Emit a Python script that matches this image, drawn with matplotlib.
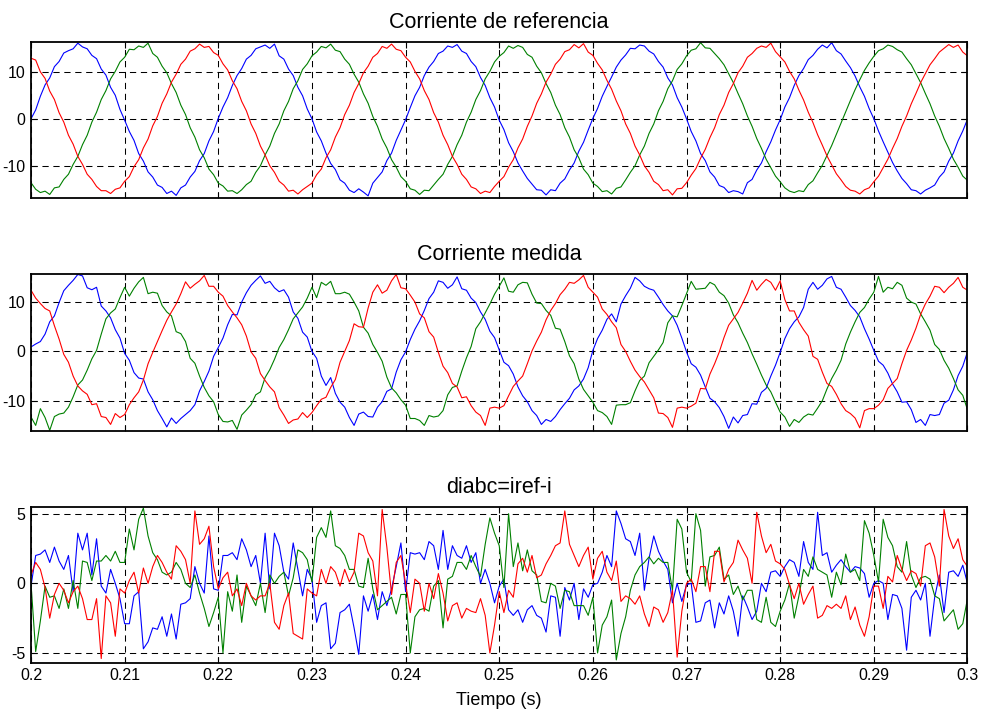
import numpy as np
import matplotlib.pyplot as plt

# Muestras cada 0.5 ms entre 0.2 s y 0.3 s (fase a: azul, b: verde, c: rojo)

# Corriente de referencia
ia_ref = [
    0.1, 2.0, 4.9, 7.3, 8.8, 11.2, 12.3, 14.1, 14.6, 15.0,
    16.2, 15.4, 15.0, 13.6, 12.9, 10.7, 9.4, 6.8, 5.1, 2.1,
    -0.2, -2.6, -4.5, -7.3, -8.9, -11.2, -12.3, -14.0, -14.5, -15.8,
    -15.3, -16.2, -14.6, -14.0, -12.3, -11.1, -8.8, -7.3, -4.6, -2.6,
    0.2, 2.6, 4.6, 7.2, 9.3, 10.8, 12.8, 13.6, 15.0, 15.4,
    15.8, 15.1, 16.0, 13.5, 12.8, 10.7, 9.3, 6.8, 5.0, 2.2,
    0.1, -2.7, -4.6, -7.2, -9.4, -10.7, -12.9, -13.6, -15.1, -15.6,
    -14.8, -15.5, -16.3, -13.6, -12.4, -11.2, -8.8, -7.2, -4.5, -2.3,
    -0.1, 2.5, 5.0, 6.8, 9.3, 11.1, 12.3, 14.0, 14.5, 15.6,
    15.3, 15.9, 14.5, 14.0, 12.3, 11.2, 8.9, 7.2, 4.6, 2.6,
    -0.2, -2.2, -5.0, -6.9, -9.3, -11.0, -12.6, -13.8, -15.0, -15.1,
    -16.1, -15.0, -15.2, -13.6, -12.7, -10.8, -9.3, -6.8, -4.9, -2.3,
    0.2, 2.3, 4.9, 7.0, 9.0, 11.1, 12.6, 13.7, 15.1, 15.0,
    15.8, 15.6, 14.5, 13.9, 12.3, 11.1, 8.8, 7.3, 4.6, 2.6,
    0.1, -2.6, -4.6, -7.3, -8.8, -11.2, -12.3, -14.1, -14.5, -15.6,
    -15.2, -15.4, -15.9, -13.5, -12.8, -10.8, -9.3, -6.9, -4.8, -2.3,
    -0.1, 2.6, 4.6, 7.2, 9.3, 10.8, 12.7, 13.6, 14.9, 15.8,
    15.2, 16.3, 14.6, 13.9, 12.4, 11.0, 9.2, 6.9, 4.9, 2.3,
    0.1, -2.5, -4.8, -7.0, -9.2, -11.0, -12.6, -13.7, -15.0, -15.2,
    -15.9, -15.1, -14.6, -14.0, -12.3, -11.2, -8.9, -7.2, -4.6, -2.5,
    0.0,
]
ib_ref = [
    -13.5, -14.9, -15.6, -15.3, -16.0, -14.6, -14.4, -12.8, -11.7, -9.6,
    -7.9, -5.4, -3.4, -0.6, 1.5, 4.2, 6.1, 8.6, 10.2, 12.2,
    13.2, 14.9, 14.8, 15.6, 15.3, 16.2, 14.0, 13.2, 11.3, 9.9,
    7.6, 5.7, 3.0, 1.0, -1.8, -3.8, -6.5, -8.2, -10.6, -11.8,
    -13.6, -14.2, -15.3, -15.2, -15.8, -15.0, -13.9, -13.2, -11.3, -9.9,
    -7.6, -5.7, -3.0, -1.0, 1.8, 3.8, 6.5, 8.2, 10.6, 11.8,
    13.5, 14.3, 15.5, 15.2, 16.0, 14.7, 14.4, 12.8, 11.7, 9.6,
    7.9, 5.4, 3.4, 0.6, -1.5, -4.2, -6.1, -8.6, -10.2, -12.2,
    -13.2, -14.8, -15.1, -16.0, -15.1, -15.2, -14.0, -12.8, -11.7, -9.6,
    -7.9, -5.4, -3.4, -0.6, 1.5, 4.2, 6.1, 8.6, 10.2, 12.2,
    13.4, 14.2, 15.6, 15.1, 15.7, 15.3, 13.8, 13.2, 11.3, 9.9,
    7.6, 5.7, 3.0, 1.0, -1.8, -3.8, -6.5, -8.2, -10.6, -11.8,
    -13.6, -14.3, -15.4, -15.2, -15.9, -14.7, -14.4, -12.9, -11.3, -9.9,
    -7.6, -5.7, -3.0, -1.0, 1.8, 3.8, 6.5, 8.2, 10.6, 11.8,
    13.5, 14.7, 15.0, 16.3, 15.2, 15.1, 14.0, 12.9, 11.6, 9.7,
    7.8, 5.5, 3.3, 0.7, -1.5, -4.1, -6.2, -8.5, -10.3, -12.1,
    -13.3, -14.6, -15.3, -15.6, -15.2, -15.4, -13.9, -13.1, -11.4, -9.8,
    -7.7, -5.6, -3.2, -0.8, 1.6, 4.0, 6.3, 8.4, 10.4, 12.0,
    13.4, 14.6, 15.0, 15.8, 15.5, 14.8, 14.3, 12.9, 11.6, 9.7,
    7.8, 5.5, 3.3, 0.7, -1.5, -4.1, -6.2, -8.5, -10.2, -12.1,
    -13.0,
]
ic_ref = [
    13.0, 12.6, 10.1, 8.7, 6.0, 4.2, 1.4, -0.6, -3.4, -5.3,
    -7.9, -9.6, -11.7, -12.8, -14.3, -15.2, -15.2, -15.8, -14.9, -14.6,
    -13.2, -12.2, -10.1, -8.6, -6.1, -4.2, -1.4, 0.6, 3.4, 5.4,
    7.9, 9.6, 11.7, 12.8, 14.5, 15.0, 16.0, 15.3, 15.5, 14.2,
    13.6, 11.8, 10.5, 8.2, 6.5, 3.8, 1.8, -1.0, -3.0, -5.7,
    -7.6, -9.9, -11.3, -13.2, -14.0, -15.3, -15.1, -15.9, -15.0, -14.3,
    -13.6, -11.8, -10.6, -8.2, -6.5, -3.8, -1.8, 1.0, 3.0, 5.7,
    7.6, 9.9, 11.3, 13.2, 14.0, 15.5, 15.1, 16.0, 14.9, 14.6,
    13.2, 12.2, 10.2, 8.6, 6.1, 4.2, 1.4, -0.6, -3.4, -5.4,
    -7.9, -9.6, -11.7, -12.8, -14.4, -14.8, -15.8, -15.3, -15.6, -14.3,
    -13.2, -12.2, -10.2, -8.6, -6.1, -4.2, -1.5, 0.7, 3.4, 5.4,
    7.9, 9.6, 11.7, 12.8, 14.4, 14.8, 15.9, 15.2, 16.1, 14.3,
    13.6, 11.9, 10.5, 8.3, 6.4, 3.9, 1.8, -1.0, -3.0, -5.7,
    -7.6, -9.9, -11.3, -13.2, -13.9, -15.2, -15.0, -16.1, -14.8, -14.7,
    -13.5, -11.9, -10.5, -8.3, -6.4, -3.9, -1.8, 1.0, 3.0, 5.7,
    7.6, 9.9, 11.3, 13.2, 14.0, 15.1, 15.6, 15.3, 16.2, 14.4,
    13.3, 12.2, 10.2, 8.6, 6.2, 4.1, 1.5, -0.7, -3.3, -5.5,
    -7.8, -9.7, -11.6, -12.9, -14.3, -15.1, -15.3, -15.9, -15.0, -14.6,
    -13.3, -12.1, -10.3, -8.5, -6.2, -4.1, -1.5, 0.7, 3.3, 5.5,
    7.8, 9.7, 11.6, 12.9, 14.3, 15.1, 15.9, 15.3, 15.8, 14.3,
    13.5,
]

# Corriente medida
ia_med = [
    0.9, 1.5, 2.0, 3.5, 6.0, 7.2, 9.9, 12.3, 13.4, 14.4,
    15.6, 15.3, 12.9, 12.5, 13.0, 9.2, 8.2, 6.8, 4.4, 2.7,
    -0.4, -1.8, -4.3, -5.4, -5.6, -8.2, -9.8, -12.0, -13.6, -15.3,
    -13.5, -14.6, -13.6, -12.8, -12.0, -10.8, -8.0, -6.1, -4.0, -1.0,
    0.8, 2.7, 5.4, 7.5, 7.4, 10.0, 11.9, 13.4, 14.4, 15.3,
    13.8, 14.2, 12.9, 12.1, 12.5, 11.0, 8.0, 6.7, 3.9, 2.9,
    0.0, -1.4, -5.0, -6.9, -5.3, -8.5, -10.3, -11.3, -13.4, -15.0,
    -12.7, -12.3, -13.2, -13.3, -11.3, -10.2, -8.1, -7.6, -4.2, -1.7,
    -0.1, 2.4, 4.5, 6.2, 8.3, 10.7, 12.0, 14.3, 14.0, 12.8,
    13.5, 15.1, 12.7, 12.4, 10.8, 9.9, 8.0, 6.5, 4.1, 2.8,
    0.3, -2.2, -2.9, -4.6, -7.2, -9.0, -10.2, -12.0, -13.0, -14.8,
    -13.8, -14.2, -13.2, -11.8, -10.6, -9.5, -7.8, -7.0, -5.6, -3.3,
    0.2, 2.6, 4.3, 6.5, 7.6, 6.0, 9.6, 11.3, 12.8, 15.0,
    14.3, 13.2, 12.7, 12.4, 11.0, 9.5, 8.2, 7.2, 5.3, 2.7,
    -0.1, -2.5, -3.2, -4.8, -7.2, -9.5, -10.2, -11.4, -13.2, -15.6,
    -13.3, -14.5, -13.0, -12.8, -10.6, -10.7, -8.3, -7.5, -5.0, -2.8,
    -0.2, 2.6, 4.6, 6.0, 7.0, 8.9, 12.6, 14.0, 12.6, 13.4,
    14.7, 15.2, 13.0, 12.6, 11.0, 9.3, 8.3, 7.0, 4.6, 2.5,
    0.2, -2.0, -2.8, -4.4, -6.6, -8.2, -10.3, -10.2, -11.8, -14.4,
    -13.8, -15.0, -12.8, -13.0, -12.8, -10.5, -9.9, -7.8, -4.9, -3.0,
    -0.1,
]
ib_med = [
    -13.3, -15.0, -11.6, -13.4, -16.0, -13.2, -12.7, -12.5, -11.3, -9.2,
    -6.8, -5.8, -3.8, -1.5, 0.2, 3.5, 6.6, 7.8, 8.6, 10.9,
    13.0, 11.2, 12.8, 14.1, 15.0, 11.7, 12.0, 11.8, 9.3, 8.0,
    7.2, 4.0, 3.6, 2.0, -1.4, -2.4, -5.0, -7.3, -9.0, -10.2,
    -12.8, -14.2, -14.3, -14.0, -15.8, -12.9, -11.9, -10.8, -8.8, -8.2,
    -5.3, -3.7, -1.6, 0.8, 2.4, 4.4, 6.6, 7.8, 9.0, 10.8,
    13.0, 10.9, 14.0, 13.4, 14.2, 11.7, 11.7, 12.0, 11.6, 10.0,
    8.2, 4.9, 3.7, 1.4, -0.2, -2.0, -5.2, -7.4, -8.4, -9.8,
    -10.9, -13.6, -13.6, -14.0, -15.0, -13.0, -13.3, -13.1, -12.0, -8.8,
    -7.3, -7.0, -4.0, -1.3, 1.0, 4.6, 6.0, 7.8, 9.6, 11.6,
    13.2, 14.9, 12.2, 12.0, 13.5, 14.0, 13.9, 11.6, 9.8, 9.7,
    8.3, 7.3, 4.7, 4.5, 2.0, -0.9, -2.5, -5.6, -7.7, -9.0,
    -10.3, -12.0, -12.4, -13.2, -14.8, -10.9, -10.8, -10.8, -10.4, -8.0,
    -5.9, -5.0, -2.3, -1.0, 0.3, 1.8, 5.8, 7.2, 7.0, 9.3,
    11.7, 14.2, 12.6, 12.7, 12.8, 14.0, 13.5, 12.0, 11.3, 9.8,
    7.4, 5.8, 3.7, 1.8, -0.5, -2.6, -4.8, -6.8, -8.2, -10.3,
    -12.3, -13.3, -15.2, -13.8, -14.4, -13.3, -12.7, -12.9, -11.5, -10.0,
    -7.6, -5.5, -3.8, -1.8, 1.5, 3.9, 6.0, 7.9, 8.9, 10.6,
    12.0, 15.2, 12.0, 13.0, 12.7, 14.0, 13.4, 10.8, 10.0, 9.6,
    7.6, 6.0, 4.3, 1.4, 0.4, -1.8, -3.4, -5.5, -7.8, -8.9,
    -11.8,
]
ic_med = [
    12.4, 10.8, 9.7, 8.7, 8.2, 5.2, 2.5, -0.6, -2.2, -5.0,
    -7.0, -8.0, -8.7, -10.8, -10.6, -13.2, -13.4, -14.8, -12.6, -13.4,
    -12.8, -10.8, -9.4, -8.2, -5.8, -2.5, -0.2, 2.0, 4.2, 6.3,
    8.0, 9.6, 11.7, 14.1, 12.8, 13.6, 14.3, 15.4, 13.2, 13.2,
    12.0, 11.2, 9.3, 8.0, 6.8, 5.4, 3.1, -0.1, -1.4, -4.5,
    -5.9, -7.2, -8.2, -11.4, -12.9, -14.6, -13.9, -13.7, -12.4, -13.4,
    -12.4, -11.0, -9.7, -9.3, -7.3, -5.7, -2.2, 0.0, 2.2, 5.6,
    5.0, 4.9, 8.8, 12.0, 13.5, 11.8, 12.4, 14.3, 15.6, 12.9,
    12.7, 11.4, 10.0, 7.6, 6.8, 4.0, 2.9, -0.2, -3.0, -4.3,
    -6.5, -7.2, -9.4, -9.2, -11.0, -12.3, -13.0, -15.0, -11.5, -11.3,
    -11.5, -11.0, -9.0, -7.1, -6.0, -5.0, -2.5, 0.1, 2.1, 3.9,
    6.4, 8.3, 9.7, 11.5, 12.6, 14.0, 13.8, 14.5, 15.4, 13.0,
    12.0, 11.0, 8.6, 7.5, 6.0, 4.8, 1.4, 0.0, -2.0, -3.8,
    -5.1, -6.2, -7.8, -9.4, -12.5, -12.6, -13.4, -15.4, -11.5, -11.3,
    -11.5, -11.1, -10.5, -7.5, -7.6, -4.6, -2.5, -0.1, 2.8, 5.3,
    6.6, 7.9, 9.8, 11.8, 14.4, 12.4, 13.6, 14.6, 14.0, 12.4,
    14.3, 10.5, 8.2, 8.2, 5.9, 4.4, 3.1, -1.0, -1.6, -4.2,
    -6.5, -7.1, -8.7, -10.6, -12.0, -12.6, -13.5, -15.5, -12.0, -11.6,
    -11.6, -10.9, -9.8, -7.5, -6.5, -5.5, -2.5, 0.2, 2.3, 4.7,
    7.5, 9.6, 11.2, 13.2, 13.0, 11.9, 13.0, 13.8, 15.0, 13.0,
    12.4,
]

# Error de seguimiento diabc = iref - i
da = [
    -0.2, 2.0, 2.1, 2.4, 1.5, 2.6, 1.6, 1.0, 2.0, -0.6,
    3.6, 2.4, 3.6, 0.6, 3.2, -0.2, -0.7, 1.0, 0.0, -1.1,
    -2.9, -2.9, -0.9, -0.6, -4.7, -4.2, -3.2, -3.3, -2.4, -3.8,
    -2.2, -4.0, -1.5, -1.4, -1.1, 1.2, 0.0, -0.7, 3.4, -0.4,
    -0.5, 2.0, 2.0, 2.2, 1.7, 3.2, 2.4, 1.2, 2.0, 0.0,
    3.6, -0.4, 3.6, 2.7, 0.8, 0.3, 2.9, 1.0, -0.9, 1.0,
    0.3, -2.8, -1.6, -1.4, -4.7, -4.3, -2.1, -1.9, -1.5, -3.2,
    -5.1, -0.9, -2.0, -0.8, -2.6, -0.6, -1.6, -0.4, 1.2, 2.9,
    -0.6, 2.2, 2.1, 2.2, 1.7, 3.0, 2.7, 1.0, 3.8, 1.0,
    2.7, 2.0, 1.8, 2.7, 1.5, 2.2, 0.0, 1.0, 0.0, -1.4,
    -0.2, 0.3, -1.9, -2.3, -1.9, -2.8, -1.9, -1.6, -2.3, -2.5,
    -3.5, -0.9, -1.0, -3.8, -0.3, -1.2, 0.0, -2.6, -0.4, -1.0,
    -0.1, 0.0, 0.8, 2.0, 1.2, 5.2, 4.3, 3.2, 3.0, 2.0,
    3.6, -0.5, 1.8, 3.4, 2.3, 1.6, 1.0, -1.4, 0.0, -1.3,
    -0.1, 0.0, -2.8, -2.7, -1.4, -1.2, -3.2, -1.4, -2.2, -0.9,
    -2.0, -3.8, -0.9, -1.7, -2.6, -2.0, 0.0, -0.6, 0.8, 0.9,
    0.5, 1.2, 1.7, 1.5, 0.5, 3.0, 1.5, 1.0, 5.1, 2.0,
    2.2, 0.8, 1.3, 1.7, 1.2, 0.8, 1.2, 1.1, 0.7, -1.0,
    0.0, 0.2, 0.0, -2.6, -0.8, -0.9, -1.8, -4.8, -1.0, -0.5,
    -1.2, 0.0, -3.8, -1.0, 0.6, -2.1, 0.8, 0.9, 0.5, 1.3,
    0.0,
]
db = [
    0.0, -4.9, -2.7, -0.2, -1.0, -0.9, -1.8, -0.4, -1.8, 0.2,
    -1.8, 1.6, 1.5, 0.2, 1.6, 1.6, 2.0, 1.6, 2.3, 1.5,
    1.5, 3.9, 2.4, 4.6, 5.4, 3.4, 2.2, 1.7, 0.8, 0.6,
    0.8, 1.5, 1.0, 0.0, -0.3, 0.6, -0.7, -1.8, -3.1, -2.1,
    -1.0, -5.0, -0.6, -2.0, 0.6, -2.8, -0.2, -0.9, -1.6, 0.0,
    -2.1, 0.6, 0.0, 0.5, 0.8, -0.9, 0.4, 2.4, 2.2, 1.7,
    0.1, 3.3, 4.0, 3.3, 5.2, 2.7, 2.5, 2.0, 1.0, 1.0,
    -0.2, -0.3, 1.8, -0.4, -1.9, -1.6, -1.3, -1.0, -2.2, -0.8,
    -0.8, -5.0, -2.4, -1.9, -1.8, -2.0, -0.2, 0.2, -3.2, 0.3,
    0.5, 1.5, 1.5, 1.0, 2.0, 1.2, 0.5, 2.8, 4.7, 3.6,
    2.7, -0.3, 5.0, 1.2, 2.9, 0.9, 2.4, 0.9, 0.6, -1.3,
    -1.4, 0.0, -0.2, -1.8, -0.5, -0.6, -1.6, -1.6, -1.6, -2.3,
    -1.0, -5.0, -3.0, -2.4, -1.2, -5.5, -3.6, -2.4, -0.5, 0.6,
    1.2, 1.5, 1.9, 1.4, 1.8, 1.5, 1.5, -0.5, 4.6, 3.9,
    0.8, 0.1, 5.0, 3.8, -0.2, 1.9, 2.0, 2.6, 0.3, 0.6,
    -0.8, -0.2, -1.2, -0.5, -0.5, -2.6, -2.8, -1.0, -2.8, -3.1,
    -2.0, -1.2, 0.0, -2.5, -0.9, 1.0, 0.5, 1.9, 1.0, 0.8,
    0.6, -1.0, 0.8, -0.1, 2.1, 0.8, 1.0, 0.2, 4.5, 3.6,
    2.0, 0.1, 4.6, 3.3, 2.7, 1.2, 0.8, 3.0, 0.6, -0.3,
    0.4, 0.5, 0.3, -0.9, -1.1, -2.7, -2.3, -1.9, -3.3, -2.9,
    -1.1,
]
dc = [
    0.6, 1.5, 1.0, -0.3, -2.5, -0.8, 0.0, -0.5, -1.4, -0.6,
    -0.2, -1.1, -2.6, -2.6, -1.1, -5.4, -0.9, -1.4, -3.8, -0.4,
    -0.7, 0.2, 0.8, -0.7, 1.1, 0.0, 1.2, 2.0, 1.5, 0.8,
    0.3, 2.7, 2.3, 1.7, 0.0, 5.2, 2.8, 3.2, 4.1, 1.2,
    -0.4, 0.4, 0.8, -0.9, -0.4, -1.6, 0.0, -0.9, -1.2, -0.9,
    -0.9, 0.0, -2.8, -3.3, -1.6, -0.7, -3.6, -3.8, -4.0, -0.4,
    -0.7, -0.9, 1.0, 0.0, 1.2, 0.8, -0.2, 1.0, 0.1, 0.8,
    3.6, 3.4, 2.2, 1.6, -0.9, 5.3, 2.6, -0.8, 1.5, 2.0,
    0.0, -2.1, 0.3, 0.0, -2.0, 0.0, -1.1, 0.7, -0.7, -2.7,
    -1.6, -1.4, -2.5, -1.8, -2.0, -2.1, -1.1, -2.3, -5.0, -3.0,
    -0.6, -2.1, -0.5, -1.0, 1.4, 1.8, 0.8, 2.0, 0.4, 0.6,
    1.4, 2.0, 2.7, 2.9, 5.2, 2.8, 2.0, 1.2, 2.0, 2.6,
    0.3, 1.8, 2.3, 0.8, 0.2, 1.6, -1.3, -0.9, -1.1, -1.5,
    -0.9, -2.2, -3.1, -1.7, -1.9, -2.8, -2.1, -0.5, -5.3, -2.0,
    0.0, 0.3, -0.6, 1.2, 1.2, -0.6, 2.3, 2.3, 0.1, 1.0,
    1.5, 3.1, 2.4, 1.8, 0.0, 5.1, 3.4, 2.2, 2.8, 1.6,
    1.4, 1.0, -0.1, -1.1, 0.0, -1.5, -0.8, -0.2, -2.5, -2.3,
    -1.6, -1.8, -1.5, -1.8, -0.9, -2.6, -1.7, -3.0, -3.8, -2.4,
    -0.2, -0.2, -1.8, 0.5, 0.1, 2.0, 1.0, 0.2, 0.9, 0.7,
    -0.2, 2.7, 2.9, 1.9, -0.2, 5.3, 3.4, 2.5, 3.2, 1.7,
    1.2,
]

titles = ["Corriente de referencia", "Corriente medida", "diabc=iref-i"]
phase_colors = ["#0000ff", "#008000", "#ff0000"]
x_ticks = [0.2, 0.21, 0.22, 0.23, 0.24, 0.25, 0.26, 0.27, 0.28, 0.29, 0.3]
x_tick_labels = ["0.2", "0.21", "0.22", "0.23", "0.24", "0.25",
                 "0.26", "0.27", "0.28", "0.29", "0.3"]


def draw_phases(ax, series):
    """
    Dibuja las tres fases (a, b, c) sobre el mismo eje.
    """
    for values, color in zip(series, phase_colors):
        t = np.linspace(0.2, 0.3, len(values))
        ax.plot(t, values, color=color, linewidth=0.8)


def style_axis(ax, title, ylim, yticks, show_xlabels):
    ax.set_xlim(0.2, 0.3)
    ax.set_ylim(*ylim)
    ax.set_yticks(yticks)
    ax.set_xticks(x_ticks)

    if show_xlabels:
        ax.set_xticklabels(x_tick_labels)
    else:
        ax.set_xticklabels([])

    ax.set_title(title, fontsize=15.5, pad=10)
    ax.grid(True, color="black", linewidth=0.75, linestyle=(0, (6, 4.5)))
    ax.tick_params(direction="in", length=4, width=0.8, labelsize=11.5,
                   top=True, right=True, pad=4)

    for spine in ax.spines.values():
        spine.set_linewidth(1.3)


def main():
    plt.rcParams["font.family"] = ["Liberation Sans", "DejaVu Sans"]
    plt.rcParams["axes.unicode_minus"] = False

    fig = plt.figure(figsize=(9.81, 7.10), dpi=100)

    left = 0.0316
    width = 0.9546

    ax1 = fig.add_axes([left, 0.7215, width, 0.2197])
    ax2 = fig.add_axes([left, 0.3925, width, 0.2220])
    ax3 = fig.add_axes([left, 0.0666, width, 0.2193])

    draw_phases(ax1, [ia_ref, ib_ref, ic_ref])
    draw_phases(ax2, [ia_med, ib_med, ic_med])
    draw_phases(ax3, [da, db, dc])

    style_axis(ax1, titles[0], (-16.7, 16.5), [-10, 0, 10], False)
    style_axis(ax2, titles[1], (-16.2, 15.75), [-10, 0, 10], False)
    style_axis(ax3, titles[2], (-5.7, 5.48), [-5, 0, 5], True)

    ax3.set_xlabel("Tiempo (s)", fontsize=13, labelpad=6)

    fig.savefig("out.png", dpi=100)
    plt.close(fig)


if __name__ == "__main__":
    main()
